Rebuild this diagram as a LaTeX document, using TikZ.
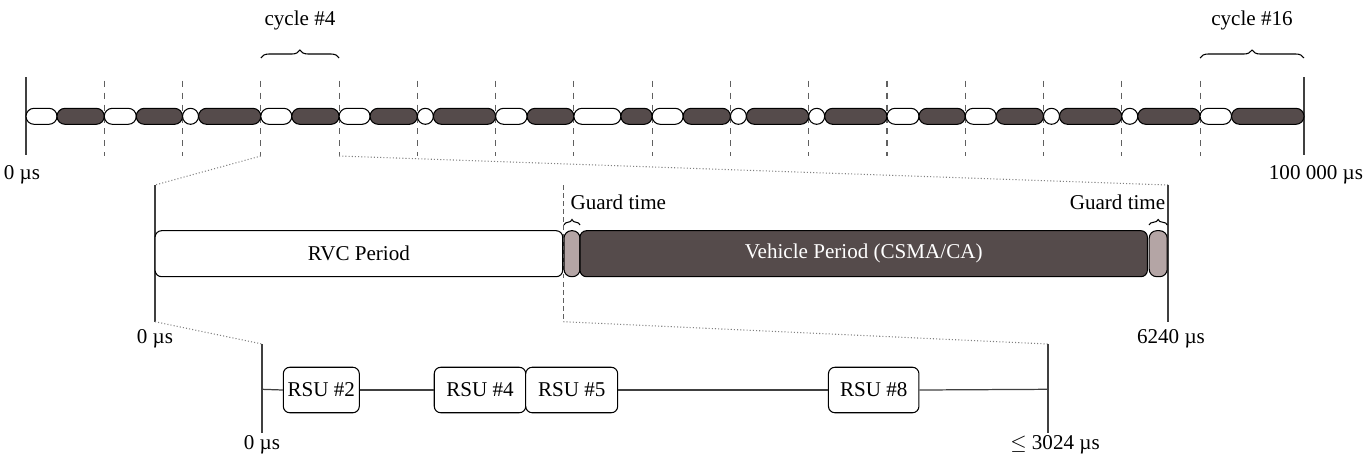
\documentclass[tikz,border=0pt]{standalone}
\usepackage{fontspec}
\setmainfont{Liberation Serif}
\usepackage{tikz}
\usepackage{xcolor}
\usetikzlibrary{shapes.misc,decorations.pathreplacing}
\definecolor{vehdark}{HTML}{554B4B}
\definecolor{guardgray}{HTML}{B4A5A5}
\definecolor{axisgray}{HTML}{404040}
\definecolor{sepgray}{HTML}{606060}
\tikzset{
  rvcpill/.style={rounded rectangle,draw=black,fill=white,line width=0.6pt,
                  minimum height=0.32cm,inner sep=0pt},
  vehpill/.style={rvcpill,fill=vehdark},
  period/.style={draw=black,line width=0.6pt,rounded corners=0.13cm,
                 minimum height=0.92cm,inner sep=0pt,font=\fontsize{12}{14}\selectfont},
  guardbox/.style={draw=black,fill=guardgray,line width=0.6pt,rounded corners=0.15cm,
                   minimum height=0.92cm,inner sep=0pt},
  rsubox/.style={draw=black,fill=white,line width=0.6pt,rounded corners=0.13cm,
                 minimum height=0.91cm,inner sep=0pt,font=\fontsize{12}{14}\selectfont},
  axisline/.style={axisgray,line width=0.7pt},
  cyclesep/.style={sepgray,line width=0.6pt,dash pattern=on 3.4pt off 3.4pt},
  zoomline/.style={gray,line width=0.6pt,dash pattern=on 0.6pt off 1.2pt},
  cyclebrace/.style={decorate,decoration={brace,amplitude=0.16cm},line width=0.6pt},
  guardbrace/.style={decorate,decoration={brace,amplitude=0.11cm},line width=0.6pt},
  lbl/.style={font=\fontsize{12}{14}\selectfont,inner sep=0pt}
}

\begin{document}
\begin{tikzpicture}[x=0.02cm,y=-0.02cm]
  \useasboundingbox (0,0) rectangle (1370,461);

  % whole beacon interval
  \foreach \k in {1,...,15}
    \draw[cyclesep] ({26+78.27*\k},80.7) -- ({26+78.27*\k},156);
  \draw[axisline] (26,77) -- (26,155);
  \draw[axisline] (1304,77) -- (1304,155);
  \foreach \w [count=\k from 0] in {31,32,16,31,31,16,31.5,47,31,16,16,32,31,16,16,31.5} {
    \pgfmathsetmacro\xa{26+78.27*\k}
    \pgfmathsetmacro\xb{\k==15 ? 1304 : 26+78.27*(\k+1)}
    \pgfmathsetmacro\xm{\xa+\w}
    \pgfmathsetmacro\wr{\w*0.02}
    \pgfmathsetmacro\wv{(\xb-\xm)*0.02}
    \node[rvcpill,minimum width=\wr cm] (r\k) at ({(\xa+\xm)/2},116.3) {};
    \node[vehpill,minimum width=\wv cm] (v\k) at ({(\xm+\xb)/2},116.3) {};
  }
  \node[lbl] (t0) at (22,175) {0 µs};
  \node[lbl] (tend) at (1316,175) {100 000 µs};

  \draw[cyclebrace] (260.8,58) -- (339.1,58);
  \node[lbl] (cyc4) at (300,20) {cycle \#4};
  \draw[cyclebrace] (1200,58) -- (1304,58);
  \node[lbl] (cyc16) at (1252,20) {cycle \#16};

  % one cycle
  \coordinate (za) at (260.8,156);
  \coordinate (zb) at (339.1,156);
  \coordinate (ma) at (155,185);
  \coordinate (mb) at (1168,185);
  \draw[zoomline] (za) -- (ma);
  \draw[zoomline] (zb) -- (mb);
  \draw[axisline] (ma) -- (155,321.7) coordinate (mc);
  \draw[axisline] (mb) -- (1168,321.7);
  \draw[sepgray,line width=0.6pt,dash pattern=on 2.6pt off 2pt] (563.3,185) -- (563.3,321.7) coordinate (md);

  \node[period,fill=white,minimum width=8.154cm] (rvc) at (358.9,253.7) {RVC Period};
  \node[guardbox,minimum width=0.32cm] (g1) at (572,253.7) {};
  \node[period,fill=vehdark,text=white,minimum width=11.35cm] (veh) at (863.7,253.7) {Vehicle Period (CSMA/CA)};
  \node[guardbox,minimum width=0.36cm] (g2) at (1158.2,253.7) {};

  \draw[guardbrace] (564,225) -- (580,225);
  \node[lbl] (gt1) at (618.3,202.7) {Guard time};
  \draw[guardbrace] (1149,225) -- (1167.3,225);
  \node[lbl] (gt2) at (1117.5,202.7) {Guard time};

  \node[lbl] (m0) at (155,339) {0 µs};
  \node[lbl] (mend) at (1171,339) {6240 µs};

  % RVC period
  \coordinate (ba) at (262,344);
  \coordinate (bb) at (1048,344);
  \draw[zoomline] (mc) -- (ba);
  \draw[zoomline] (md) -- (bb);
  \draw[axisline] (ba) -- (262,433);
  \draw[axisline] (bb) -- (1048,433);
  \coordinate (bl) at (262,389.3);
  \coordinate (br) at (1048,389.3);

  \node[rsubox,minimum width=1.52cm] (rsu2) at (321.3,390) {RSU \#2};
  \node[rsubox,minimum width=1.83cm] (rsu4) at (480,390) {RSU \#4};
  \node[rsubox,minimum width=1.84cm] (rsu5) at (571.7,390) {RSU \#5};
  \node[rsubox,minimum width=1.81cm] (rsu8) at (873.7,390) {RSU \#8};
  \draw[axisline] (bl) -- (rsu2.west);
  \draw[axisline] (rsu2.east) -- (rsu4.west);
  \draw[axisline] (rsu5.east) -- (rsu8.west);
  \draw[axisline] (rsu8.east) -- (br);

  \node[lbl] (b0) at (262,445) {0 µs};
  \node[lbl] (bend) at (1055,445) {$\leq$ 3024 µs};
\end{tikzpicture}
\end{document}
